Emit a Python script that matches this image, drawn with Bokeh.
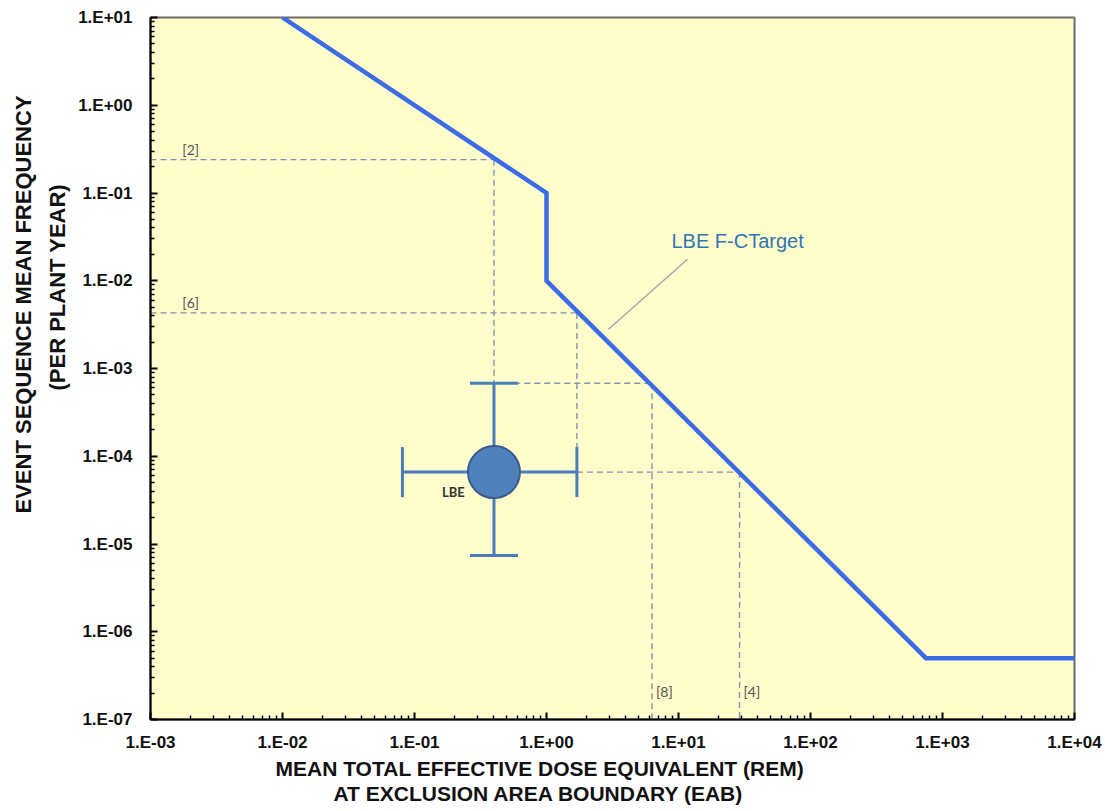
import math
from bokeh.plotting import figure
from bokeh.models import Range1d, FixedTicker, CustomJSTickFormatter, Label, Title
from bokeh.embed import file_html
from bokeh.resources import INLINE

# ---- data ----
fc_x = [1e-2, 1.0, 1.0, 750.0, 1e4]
fc_y = [10.0, 0.1, 1e-2, 5e-7, 5e-7]

lbe_x = [0.4]
lbe_y = [6.6e-5]
lbe_x_lo = [0.081]
lbe_x_hi = [1.7]
lbe_y_lo = [7.4e-6]
lbe_y_hi = [6.8e-4]

guide_x0 = [1e-3, 0.4, 1e-3, 1.7, 0.57, 6.3, 1.7, 29.0]
guide_y0 = [0.24, 0.24, 4.3e-3, 4.3e-3, 6.8e-4, 6.8e-4, 6.6e-5, 6.6e-5]
guide_x1 = [0.4, 0.4, 1.7, 1.7, 6.3, 6.3, 29.0, 29.0]
guide_y1 = [0.24, 6.8e-4, 4.3e-3, 6.6e-5, 6.8e-4, 1e-7, 6.6e-5, 1e-7]

ref_labels = ["[2]", "[6]", "[8]", "[4]"]
ref_x = [1.57e-3, 1.57e-3, 6.3, 29.0]
ref_y = [0.24, 4.3e-3, 1e-7, 1e-7]

x_ticks = [1e-3, 1e-2, 1e-1, 1e0, 1e1, 1e2, 1e3, 1e4]
y_ticks = [1e-7, 1e-6, 1e-5, 1e-4, 1e-3, 1e-2, 1e-1, 1e0, 1e1]

x_title = ["MEAN TOTAL EFFECTIVE DOSE EQUIVALENT  (REM)", "AT EXCLUSION AREA BOUNDARY  (EAB)"]
y_title = ["EVENT SEQUENCE MEAN FREQUENCY", "(PER PLANT YEAR)"]

# ---- figure ----
p = figure(x_axis_type="log", y_axis_type="log",
           x_range=Range1d(1e-3, 1e4), y_range=Range1d(1e-7, 1e1),
           frame_width=924, frame_height=702,
           min_border_left=150, min_border_top=17, min_border_right=28, min_border_bottom=90,
           output_backend="svg", toolbar_location=None,
           background_fill_color="#FFFDCC", border_fill_color="white")
p.outline_line_color = "#6b6b6b"
p.outline_line_width = 2
p.xgrid.visible = False
p.ygrid.visible = False

def minors(majors):
    out = []
    for m in majors[:-1]:
        for k in range(2, 10):
            out.append(m * k)
    return out

fmt = CustomJSTickFormatter(code="""
const e = Math.round(Math.log10(tick));
const s = e < 0 ? "-" : "+";
return "1.E" + s + String(Math.abs(e)).padStart(2, "0");
""")

for ax, ticks in ((p.xaxis[0], x_ticks), (p.yaxis[0], y_ticks)):
    ax.ticker = FixedTicker(ticks=ticks, minor_ticks=minors(ticks))
    ax.formatter = fmt
    ax.axis_line_color = "black"
    ax.axis_line_width = 2
    ax.major_tick_in = 7
    ax.major_tick_out = 0
    ax.minor_tick_in = 4
    ax.minor_tick_out = 0
    ax.major_tick_line_width = 2
    ax.minor_tick_line_width = 1.5
    ax.major_tick_line_color = "black"
    ax.minor_tick_line_color = "black"
    ax.major_label_text_font = "Liberation Sans"
    ax.major_label_text_font_style = "bold"
    ax.major_label_text_font_size = "17px"
    ax.major_label_text_color = "#111111"
p.yaxis[0].major_label_standoff = 18
p.xaxis[0].major_label_standoff = 13

# guides
p.segment(x0=guide_x0, y0=guide_y0, x1=guide_x1, y1=guide_y1,
          line_color="#8193ad", line_width=1.4, line_dash="6 4")

# F-C target line
p.line(fc_x, fc_y, line_color="#3b6be6", line_width=4.5, line_join="miter")

# leader line
p.line([11.7, 2.95], [0.0176, 2.8e-3], line_color="#a8a8a8", line_width=1.5)

# LBE error bars
eb = "#4a7ebb"
p.segment(x0=lbe_x, y0=lbe_y_lo, x1=lbe_x, y1=lbe_y_hi, line_color=eb, line_width=3)
p.segment(x0=lbe_x_lo, y0=lbe_y, x1=lbe_x_hi, y1=lbe_y, line_color=eb, line_width=3)
p.scatter(x=lbe_x * 2, y=lbe_y_lo + lbe_y_hi, marker="dash", size=48, line_color=eb, line_width=3)
p.scatter(x=lbe_x_lo + lbe_x_hi, y=lbe_y * 2, marker="dash", size=50, angle=math.pi / 2,
          line_color=eb, line_width=3)
p.scatter(x=lbe_x, y=lbe_y, marker="circle", size=52, fill_color="#4f81bd",
          line_color="#385d8a", line_width=2)

# texts
p.add_layout(Label(x=8.85, y=0.0285, text="LBE F-CTarget", text_font="Liberation Sans",
                   text_font_size="20px", text_color="#2f75b5", text_baseline="middle"))
p.add_layout(Label(x=0.197, y=3.9e-5, text="LBE", text_font="Lato", text_font_style="bold",
                   text_font_size="13px", text_color="#333333", text_align="center",
                   text_baseline="middle"))
for i, (t, xx, yy) in enumerate(zip(ref_labels, ref_x, ref_y)):
    if i < 2:
        lab = Label(x=xx, y=yy, text=t, text_baseline="bottom", y_offset=2, x_offset=6)
    else:
        lab = Label(x=xx, y=yy, text=t, text_baseline="bottom", y_offset=20, x_offset=4)
    lab.text_font = "Lato"
    lab.text_font_size = "14px"
    lab.text_color = "#555555"
    p.add_layout(lab)

# axis titles (as side titles so they sit outside the frame)
xstyle = dict(text_font="Liberation Sans", text_font_style="bold", text_font_size="21px",
              text_color="#111111", align="left")
ystyle = dict(xstyle, text_font_size="22px")
p.add_layout(Title(text=x_title[0], offset=125, standoff=0, **xstyle), "below")
p.add_layout(Title(text=x_title[1], offset=183, standoff=0, **xstyle), "below")
p.add_layout(Title(text=y_title[1], offset=329, standoff=12, **ystyle), "left")
p.add_layout(Title(text=y_title[0], offset=206, standoff=2, **ystyle), "left")

open("out.html", "w").write(file_html(p, INLINE))
